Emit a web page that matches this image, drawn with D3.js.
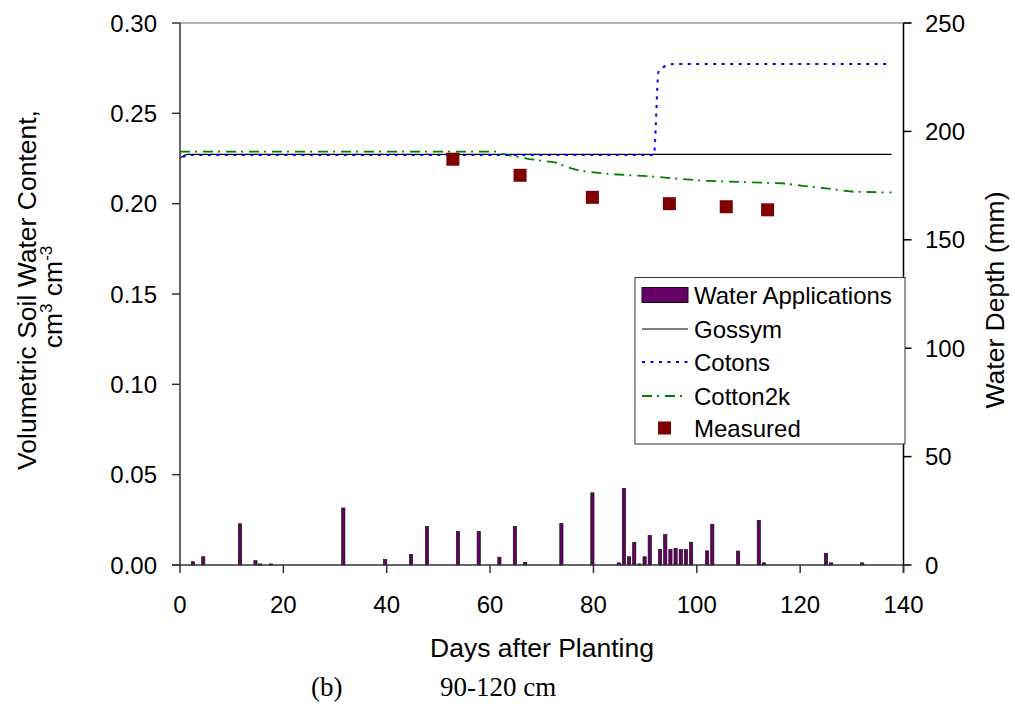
<!DOCTYPE html>
<html>
<head>
<meta charset="utf-8">
<script src="https://cdn.jsdelivr.net/npm/d3@7"></script>
<style>
  html, body { margin: 0; padding: 0; background: #fff; }
  svg { display: block; font-family: "Liberation Sans", Arial, sans-serif; }
</style>
</head>
<body>
<svg id="chart" width="1015" height="704"></svg>
<script>
// ---- data ----
const xTicks = [0, 20, 40, 60, 80, 100, 120, 140];
const yLeftTicks = [0, 0.05, 0.10, 0.15, 0.20, 0.25, 0.30];
const yRightTicks = [0, 50, 100, 150, 200, 250];

const barDays = [2.5, 4.5, 11.6, 14.6, 15.5, 17.6, 31.6, 39.7, 44.7, 47.8, 53.8, 57.8,
  61.8, 64.8, 66.8, 73.8, 79.8, 84.9, 85.9, 86.9, 87.9, 88.9, 89.9, 90.9,
  92.9, 93.9, 94.9, 95.9, 96.9, 97.9, 98.9, 102, 103, 108, 112, 113, 125, 126, 132];
const barMM = [1.5, 3.8, 19, 2, 0.5, 0.5, 26.3, 2.5, 4.9, 17.8, 15.4, 15.4,
  3.6, 17.8, 1.2, 19.1, 33.3, 1, 35.3, 3.8, 10.4, 0.5, 3.8, 13.6,
  7.1, 14, 7.1, 7.6, 7.1, 7.1, 10.5, 6.5, 18.8, 6.4, 20.6, 1, 5.4, 1, 1];

const gossymDays = [0, 0.5, 1.3, 137.7];
const gossymVals = [0.2251, 0.2262, 0.2273, 0.2273];

const cotonsDays = [0.6, 1.3, 91.7, 92.6, 94.2, 95.5, 137.5];
const cotonsVals = [0.2257, 0.2270, 0.2270, 0.2730, 0.2765, 0.2773, 0.2773];

const cotton2kDays = [0, 61, 62.4, 67.6, 72.8, 75, 77.6, 82.4, 87, 91.7, 96.7, 101.3, 108.5, 116.4, 120.5, 125, 130.3, 135.7, 137.7];
const cotton2kVals = [0.2288, 0.2288, 0.2275, 0.2247, 0.2227, 0.2201, 0.2181, 0.2166, 0.2157, 0.2150, 0.2137, 0.2127, 0.2120, 0.2113, 0.2099, 0.2085, 0.2066, 0.2063, 0.2063];

const measuredDays = [52.8, 65.8, 79.8, 94.7, 105.7, 113.7];
const measuredVals = [0.2246, 0.2157, 0.2035, 0.2000, 0.1983, 0.1966];

const legendLabels = ["Water Applications", "Gossym", "Cotons", "Cotton2k", "Measured"];

// ---- layout ----
const svg = d3.select("#chart");
const L = 180, R = 903.5, T = 23, B = 565;
const x = d3.scaleLinear().domain([0, 140]).range([L, R]);
const y = d3.scaleLinear().domain([0, 0.30]).range([B, T]);
const y2 = d3.scaleLinear().domain([0, 250]).range([B, T]);
const FS = 24;
const TFS = 26.5;

// top border
svg.append("line").attr("x1", L).attr("x2", R + 8).attr("y1", T).attr("y2", T)
  .attr("stroke", "#999").attr("stroke-width", 1.5);

// bars
svg.append("g").selectAll("rect").data(barDays).join("rect")
  .attr("x", (d) => x(d) - 1.6)
  .attr("width", 3.2)
  .attr("y", (d, i) => y2(barMM[i]))
  .attr("height", (d, i) => Math.max(0.8, B - y2(barMM[i])))
  .attr("fill", "#660066")
  .attr("stroke", "#111")
  .attr("stroke-width", 0.7);

// lines
const mk = (days, vals) => days.map((d, i) => [d, vals[i]]);
const line = d3.line().x((d) => x(d[0])).y((d) => y(d[1]));
const lineC = d3.line().x((d) => x(d[0])).y((d) => y(d[1])).curve(d3.curveMonotoneX);

svg.append("path").datum(mk(gossymDays, gossymVals)).attr("d", line)
  .attr("fill", "none").attr("stroke", "#000").attr("stroke-width", 1.2);
svg.append("path").datum(mk(cotton2kDays, cotton2kVals)).attr("d", line)
  .attr("fill", "none").attr("stroke", "#008000").attr("stroke-width", 1.8)
  .attr("stroke-dasharray", "10,5,2,6");
svg.append("path").datum(mk(cotonsDays, cotonsVals)).attr("d", lineC)
  .attr("fill", "none").attr("stroke", "#0000ff").attr("stroke-width", 2)
  .attr("stroke-dasharray", "3,5.5");

// measured
svg.append("g").selectAll("rect").data(measuredDays).join("rect")
  .attr("x", (d) => x(d) - 6.5)
  .attr("y", (d, i) => y(measuredVals[i]) - 6.5)
  .attr("width", 13).attr("height", 13)
  .attr("fill", "#800000");

// axes
const axCol = "#333";
svg.append("line").attr("x1", L).attr("x2", L).attr("y1", T).attr("y2", B)
  .attr("stroke", axCol).attr("stroke-width", 1.5);
svg.append("line").attr("x1", R).attr("x2", R).attr("y1", T).attr("y2", B + 8)
  .attr("stroke", "#000").attr("stroke-width", 1.5);
svg.append("line").attr("x1", L - 8).attr("x2", R).attr("y1", B).attr("y2", B)
  .attr("stroke", axCol).attr("stroke-width", 1.5);

const gx = svg.append("g");
xTicks.forEach((t) => {
  gx.append("line").attr("x1", x(t)).attr("x2", x(t)).attr("y1", B).attr("y2", B + 8)
    .attr("stroke", axCol).attr("stroke-width", 1.5);
  gx.append("text").attr("x", x(t)).attr("y", B + 48).attr("text-anchor", "middle")
    .attr("font-size", FS).text(t);
});
const gy = svg.append("g");
yLeftTicks.forEach((t) => {
  gy.append("line").attr("x1", L - 8).attr("x2", L).attr("y1", y(t)).attr("y2", y(t))
    .attr("stroke", axCol).attr("stroke-width", 1.5);
  gy.append("text").attr("x", 157).attr("y", y(t) + 8.5).attr("text-anchor", "end")
    .attr("font-size", FS).text(d3.format(".2f")(t));
});
const gy2 = svg.append("g");
yRightTicks.forEach((t) => {
  gy2.append("line").attr("x1", R).attr("x2", R + 8).attr("y1", y2(t)).attr("y2", y2(t))
    .attr("stroke", "#000").attr("stroke-width", 1.5);
  gy2.append("text").attr("x", 925).attr("y", y2(t) + 8.5).attr("text-anchor", "start")
    .attr("font-size", FS).text(t);
});

// axis titles
svg.append("text").attr("x", 542).attr("y", 657).attr("text-anchor", "middle")
  .attr("font-size", TFS).text("Days after Planting");
svg.append("text").attr("transform", "translate(36,290) rotate(-90)")
  .attr("text-anchor", "middle").attr("font-size", TFS)
  .text("Volumetric Soil Water Content,");
const t2 = svg.append("text").attr("transform", "translate(62,297) rotate(-90)")
  .attr("text-anchor", "middle").attr("font-size", TFS);
t2.append("tspan").text("cm");
t2.append("tspan").attr("dy", -10).attr("font-size", 17).text("3");
t2.append("tspan").attr("dy", 10).text(" cm");
t2.append("tspan").attr("dy", -10).attr("font-size", 17).text("-3");
svg.append("text").attr("transform", "translate(1004,300) rotate(-90)")
  .attr("text-anchor", "middle").attr("font-size", TFS).text("Water Depth (mm)");

// caption
const cap = svg.append("text").attr("y", 696).attr("font-family", "'Liberation Serif', 'Times New Roman', serif")
  .attr("font-size", 27);
cap.append("tspan").attr("x", 311).text("(b)");
cap.append("tspan").attr("x", 440).text("90-120 cm");

// legend
const lg = svg.append("g");
lg.append("rect").attr("x", 635).attr("y", 277.5).attr("width", 270).attr("height", 166.5)
  .attr("fill", "#fff").attr("stroke", "#333").attr("stroke-width", 1);
const rows = [295, 329, 362, 396, 428];
lg.append("rect").attr("x", 642).attr("y", rows[0] - 7.5).attr("width", 46).attr("height", 15)
  .attr("fill", "#660066").attr("stroke", "#111").attr("stroke-width", 1);
lg.append("line").attr("x1", 642).attr("x2", 688).attr("y1", rows[1]).attr("y2", rows[1])
  .attr("stroke", "#000").attr("stroke-width", 1.2);
lg.append("line").attr("x1", 642).attr("x2", 688).attr("y1", rows[2]).attr("y2", rows[2])
  .attr("stroke", "#0000ff").attr("stroke-width", 2).attr("stroke-dasharray", "3,5.5");
lg.append("line").attr("x1", 642).attr("x2", 688).attr("y1", rows[3]).attr("y2", rows[3])
  .attr("stroke", "#008000").attr("stroke-width", 1.8).attr("stroke-dasharray", "10,5,2,6");
lg.append("rect").attr("x", 658).attr("y", rows[4] - 6.5).attr("width", 13).attr("height", 13)
  .attr("fill", "#800000");
legendLabels.forEach((s, i) => {
  lg.append("text").attr("x", 694).attr("y", rows[i] + 8.5).attr("font-size", 24).text(s);
});
</script>
</body>
</html>
